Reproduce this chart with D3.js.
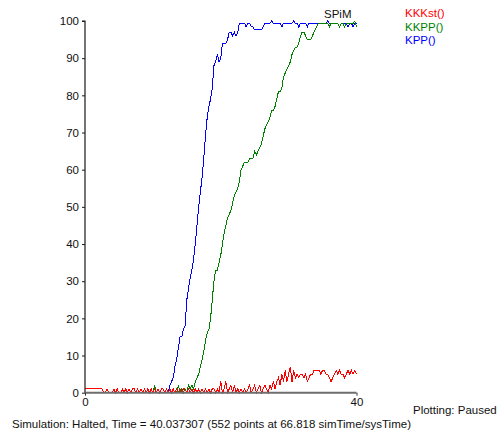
<!DOCTYPE html>
<html>
<head>
<meta charset="utf-8">
<script src="https://cdn.jsdelivr.net/npm/d3@7"></script>
<style>
  html, body { margin: 0; padding: 0; background: #fff; }
  svg { display: block; }
  text { font-family: "Liberation Sans", Arial, sans-serif; font-size: 11.5px; }
</style>
</head>
<body>
<svg id="plot" width="497" height="434"></svg>
<script>
// Sample times of the simulation trace
const sampleTimes = [
  0, 0.25, 0.5, 0.75, 1, 1.25, 1.5, 1.75, 2, 2.25, 2.5, 2.75, 3, 3.25, 3.5, 3.75,
  4, 4.25, 4.5, 4.75, 5, 5.25, 5.5, 5.75, 6, 6.25, 6.5, 6.75, 7, 7.25, 7.5, 7.75,
  8, 8.25, 8.5, 8.75, 9, 9.25, 9.5, 9.75, 10, 10.25, 10.5, 10.75, 11, 11.25, 11.5, 11.75,
  12, 12.25, 12.5, 12.75, 13, 13.25, 13.5, 13.75, 14, 14.25, 14.5, 14.75, 15, 15.25, 15.5, 15.75,
  16, 16.25, 16.5, 16.75, 17, 17.25, 17.5, 17.75, 18, 18.25, 18.5, 18.75, 19, 19.25, 19.5, 19.75,
  20, 20.25, 20.5, 20.75, 21, 21.25, 21.5, 21.75, 22, 22.25, 22.5, 22.75, 23, 23.25, 23.5, 23.75,
  24, 24.25, 24.5, 24.75, 25, 25.25, 25.5, 25.75, 26, 26.25, 26.5, 26.75, 27, 27.25, 27.5, 27.75,
  28, 28.25, 28.5, 28.75, 29, 29.25, 29.5, 29.75, 30, 30.25, 30.5, 30.75, 31, 31.25, 31.5, 31.75,
  32, 32.25, 32.5, 32.75, 33, 33.25, 33.5, 33.75, 34, 34.25, 34.5, 34.75, 35, 35.25, 35.5, 35.75,
  36, 36.25, 36.5, 36.75, 37, 37.25, 37.5, 37.75, 38, 38.25, 38.5, 38.75, 39, 39.25, 39.5, 39.75,
  40
];

// KKKst() counts
const kkkst = [
  1, 1, 1, 1, 1, 1, 1, 1, 1, 1, 1, 0, 0, 1, 0, 0,
  0, 1, 0, 1, 0, 0, 1, 0, 1, 0, 1, 0, 1, 1, 0, 1,
  0, 1, 0, 1, 0, 1, 0, 1, 0, 1, 0, 1, 0, 1, 1, 0,
  1, 0, 1, 0, 1, 0, 1, 0, 1, 0, 1, 1, 0, 1, 0, 1,
  0, 1, 0, 1, 0, 1, 0, 1, 0, 1, 0, 1, 1, 0, 1, 0,
  3, 0, 1, 3, 0, 1, 2, 0, 2, 0, 1, 0, 1, 0, 1, 0,
  1, 2, 0, 1, 2, 0, 1, 2, 0, 1, 2, 1, 0, 2, 1, 3,
  1, 3, 4, 2, 5, 3, 6, 3, 5, 7, 3, 6, 4, 5, 4, 5,
  5, 4, 5, 3, 4, 5, 5, 6, 6, 6, 6, 5, 6, 6, 5, 5,
  4, 3, 4, 5, 6, 5, 6, 5, 5, 4, 5, 6, 5, 6, 5, 6,
  5
];

// KKPP() counts
const kkpp = [
  0, 0, 0, 0, 0, 0, 0, 0, 0, 0, 0, 0, 0, 0, 0, 0,
  0, 0, 0, 0, 0, 0, 0, 0, 0, 0, 0, 0, 0, 0, 0, 0,
  0, 0, 0, 0, 0, 0, 0, 0, 0, 2, 0, 0, 0, 0, 0, 0,
  0, 0, 0, 0, 0, 0, 0, 2, 0, 1, 0, 1, 0, 2, 1, 2,
  1, 3, 4, 5, 7, 9, 11, 14, 16, 17, 20, 25, 30, 33, 33, 35,
  37, 40, 43, 45, 47, 48, 49, 51, 53, 54, 55, 57, 60, 61, 62, 62,
  62, 63, 63, 63, 65, 64, 65, 66, 67, 69, 71, 72, 73, 74, 76, 76,
  77, 79, 81, 81, 82, 85, 86, 87, 88, 89, 91, 92, 93, 93, 94, 96,
  97, 97, 96, 95, 95, 95, 96, 97, 98, 99, 99.4, 99.4, 99.4, 99.4, 99.4, 99.4,
  98.4, 99.4, 99.4, 99.4, 99.4, 99.4, 98.4, 99.4, 99.4, 98.4, 99.4, 99.4, 99.4, 99.4, 99.4, 100,
  98.4
];

// KPP() counts
const kpp = [
  0, 0, 0, 0, 0, 0, 0, 0, 0, 0, 0, 0, 0, 0, 0, 0,
  0, 0, 0, 0, 0, 0, 0, 0, 0, 0, 0, 0, 0, 0, 0, 0,
  0, 0, 0, 0, 0, 0, 0, 0, 0, 0, 0, 0, 0, 0, 0, 0,
  0, 0, 2, 3, 4, 7, 9, 12, 15, 15, 17, 18, 25, 28, 31, 33,
  36, 40, 45, 50, 54, 58, 63, 69, 74, 77, 79, 82, 88, 89, 91, 89,
  90, 94, 94, 94, 95, 97, 97, 96, 97, 96, 97, 99.4, 99.4, 99.4, 99.4, 98.4,
  99.4, 99.4, 98.4, 98.4, 97.6, 97.6, 97.6, 97.6, 97.6, 98.4, 99.4, 99.4, 99.4, 99.4, 100, 99.4,
  99.4, 99.4, 99.4, 99.4, 98.4, 99.4, 99.4, 99.4, 99.4, 99.4, 99.4, 100, 99.4, 99.4, 98.4, 99.4,
  99.4, 99.4, 99.4, 98.4, 99.4, 99.4, 99.4, 99.4, 99.4, 99.4, 99.4, 99.4, 99.4, 99.4, 99.4, 100,
  99.4, 99.4, 99.4, 99.4, 99.4, 99.4, 98.4, 99.4, 99.4, 99.4, 99.4, 98.4, 99.4, 99.4, 98.4, 99.4,
  99.4
];

const seriesNames = ["KKKst()", "KKPP()", "KPP()"];
const seriesColors = ["#ff0000", "#008000", "#0000ff"];
const yTicks = [0, 10, 20, 30, 40, 50, 60, 70, 80, 90, 100];
const xTicks = [0, 40];
const statusText = "Simulation: Halted, Time = 40.037307 (552 points at 66.818 simTime/sysTime)";
const plottingText = "Plotting: Paused";
const titleText = "SPiM";

const svg = d3.select("#plot");
svg.append("rect").attr("width", 497).attr("height", 434).attr("fill", "#fff");

const x = d3.scaleLinear().domain([0, 40]).range([85, 356.5]);
const y = d3.scaleLinear().domain([0, 100]).range([392.7, 21]);

// Traces: KPP first, then KKPP, then KKKst on top
const seriesValues = [kkkst, kkpp, kpp];
const line = d3.line()
  .x((d, i) => x(sampleTimes[i]))
  .y(d => y(d))
  .curve(d3.curveLinear);

const traceOrder = [2, 1, 0];
svg.append("g").selectAll("path")
  .data(traceOrder)
  .join("path")
  .attr("d", k => line(seriesValues[k]))
  .attr("fill", "none")
  .attr("stroke", k => seriesColors[k])
  .attr("stroke-width", 1)
  .attr("shape-rendering", "crispEdges");

// Y axis
const yAxis = svg.append("g")
  .attr("transform", `translate(${x(0)},0)`)
  .call(d3.axisLeft(y).tickValues(yTicks).tickSize(3).tickPadding(3).tickFormat(d3.format("d")));
yAxis.select(".domain").attr("stroke", "#1a1a1a").attr("stroke-width", 1.2)
  .attr("d", `M-3,${y(100)}H0V${y(0)}`);
yAxis.selectAll(".tick line").attr("stroke", "#1a1a1a");
yAxis.selectAll(".tick text")
  .attr("fill", "#111")
  .style("font-family", "'Liberation Sans', Arial, sans-serif")
  .style("font-size", "11.5px");

// X axis
const xAxis = svg.append("g")
  .attr("transform", `translate(0,${y(0)})`)
  .call(d3.axisBottom(x).tickValues(xTicks).tickSize(3).tickPadding(2).tickFormat(d3.format("d")));
xAxis.select(".domain").attr("stroke", "#6e6e6e").attr("stroke-width", 2)
  .attr("d", `M${x(0)},0H${x(40)}`);
xAxis.selectAll(".tick line").attr("stroke", "#333");
xAxis.selectAll(".tick text")
  .attr("fill", "#111")
  .style("font-family", "'Liberation Sans', Arial, sans-serif")
  .style("font-size", "11.5px");

// Legend
svg.append("g").selectAll("text")
  .data(seriesNames)
  .join("text")
  .attr("x", 405)
  .attr("y", (d, i) => 17 + i * 13.5)
  .attr("fill", (d, i) => seriesColors[i])
  .text(d => d);

svg.append("text").attr("x", 324).attr("y", 18).attr("fill", "#111").text(titleText);
svg.append("text").attr("x", 413).attr("y", 414).attr("fill", "#111").text(plottingText);
svg.append("text").attr("x", 12).attr("y", 428).attr("fill", "#111")
  .attr("textLength", 399).attr("lengthAdjust", "spacing")
  .text(statusText);
</script>
</body>
</html>
